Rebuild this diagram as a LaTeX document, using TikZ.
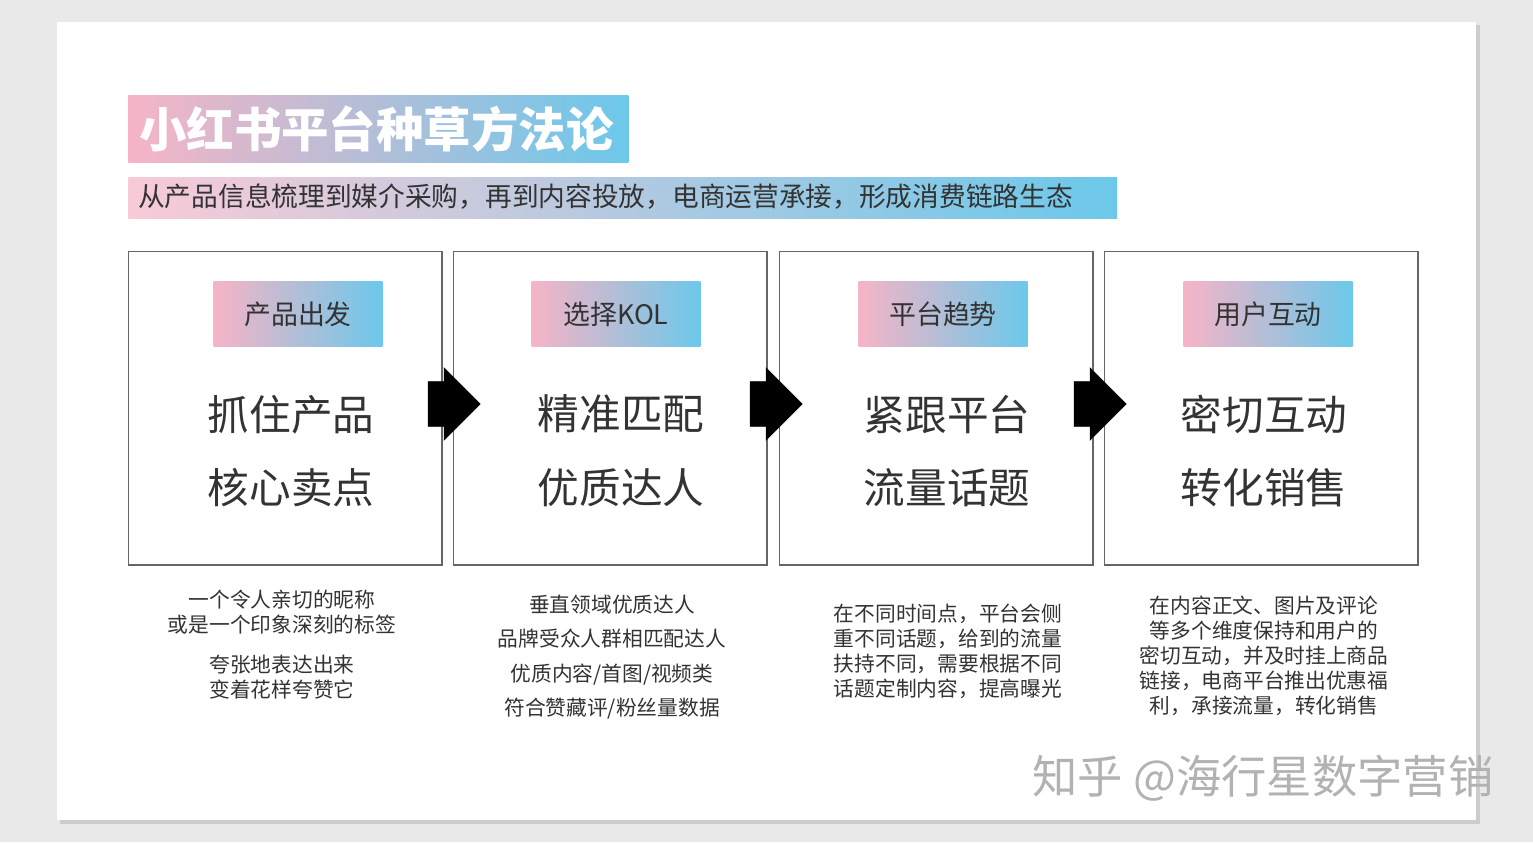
\documentclass[tikz,border=0pt]{standalone}
\usepackage{fontspec}
\setmainfont{Noto Sans CJK SC}
\usetikzlibrary{shapes.arrows}
\definecolor{pinkA}{HTML}{F6B4C6}
\definecolor{blueA}{HTML}{6CC8EA}
\definecolor{pageGray}{HTML}{E9E9E9}
\definecolor{textGray}{HTML}{333333}
\tikzset{
stepbox/.style={
  draw=black!60,
  line width=0.6pt,
  fill=white,
  minimum width=6.28cm,
  minimum height=6.28cm
  },
tagbox/.style={
  shading=axis, left color=pinkA, right color=blueA,
  minimum width=3.38cm, minimum height=1.3cm,
  font=\fontsize{15.3}{17}\selectfont, text=textGray
  },
bigtext/.style={
  align=center, text=textGray,
  font=\fontsize{23.7}{42}\selectfont
  },
desc/.style={
  align=center, text=textGray,
  font=\fontsize{11.8}{14.2}\selectfont
  },
nextarrow/.style={
  single arrow, fill=black, draw=black,
  minimum height=1.04cm, minimum width=1.44cm,
  inner xsep=0pt, inner ysep=0.4cm
  }
}

\begin{document}
\begin{tikzpicture}[x=0.02cm, y=-0.02cm]
	\useasboundingbox[fill=pageGray] (0,0) rectangle (1533,842);
	%card
	\fill[black!20] (60,25) rectangle (1480,824);
	\node (card) [fill=white, minimum width=28.38cm, minimum height=15.96cm, inner sep=0pt] at (766.5,421) {};

	%title
	\node (title) [shading=axis, left color=pinkA, right color=blueA, minimum width=10cm, minimum height=1.34cm, anchor=north west, inner sep=0pt] at (128,95) {};
	\node (titletext) [anchor=west, text=white, font=\fontsize{27}{29}\selectfont\bfseries] at (133,129) {小红书平台种草方法论};
	\node (subtitle) [shading=axis, left color=pinkA!70, right color=blueA, minimum width=19.78cm, minimum height=0.82cm, anchor=north west, inner sep=0pt] at (128,177) {};
	\node (subtext) [anchor=west, text=textGray, font=\fontsize{15.2}{17}\selectfont] at (132,197) {从产品信息梳理到媒介采购，再到内容投放，电商运营承接，形成消费链路生态};

	%boxes
	\node (box1) [stepbox] at (285,408) {};
	\node (box2) [stepbox] at (610,408) {};
	\node (box3) [stepbox] at (936,408) {};
	\node (box4) [stepbox] at (1261,408) {};

	\node (tag1) [tagbox] at (298,314) {产品出发};
	\node (tag2) [tagbox] at (616,314) {选择KOL};
	\node (tag3) [tagbox] at (943,314) {平台趋势};
	\node (tag4) [tagbox] at (1268,314) {用户互动};

	\node (big1) [bigtext] at (291,451) {抓住产品\\核心卖点};
	\node (big2) [bigtext] at (621,451) {精准匹配\\优质达人};
	\node (big3) [bigtext] at (947,451) {紧跟平台\\流量话题};
	\node (big4) [bigtext] at (1264,451) {密切互动\\转化销售};

	%arrows
	\node (arr1) [nextarrow] at (443,404) {};
	\node (arr2) [nextarrow] at (765,404) {};
	\node (arr3) [nextarrow] at (1089,404) {};

	%descriptions
	\node (desc1a) [desc] at (282,612) {一个令人亲切的昵称\\或是一个印象深刻的标签};
	\node (desc1b) [desc] at (282,677) {夸张地表达出来\\变着花样夸赞它};
	\node (desc2) [desc, font=\fontsize{11.8}{19.5}\selectfont] at (612,657) {垂直领域优质达人\\品牌受众人群相匹配达人\\优质内容/首图/视频类\\符合赞藏评/粉丝量数据};
	\node (desc3) [desc] at (948,651) {在不同时间点，平台会侧\\重不同话题，给到的流量\\扶持不同，需要根据不同\\话题定制内容，提高曝光};
	\node (desc4) [desc] at (1264,656) {在内容正文、图片及评论\\等多个维度保持和用户的\\密切互动，并及时挂上商品\\链接，电商平台推出优惠福\\利，承接流量，转化销售};

	%watermark
	\node (mark) [text=black!30, font=\fontsize{25.8}{28}\selectfont] at (1263,778) {知乎 @海行星数字营销};
\end{tikzpicture}
\end{document}
